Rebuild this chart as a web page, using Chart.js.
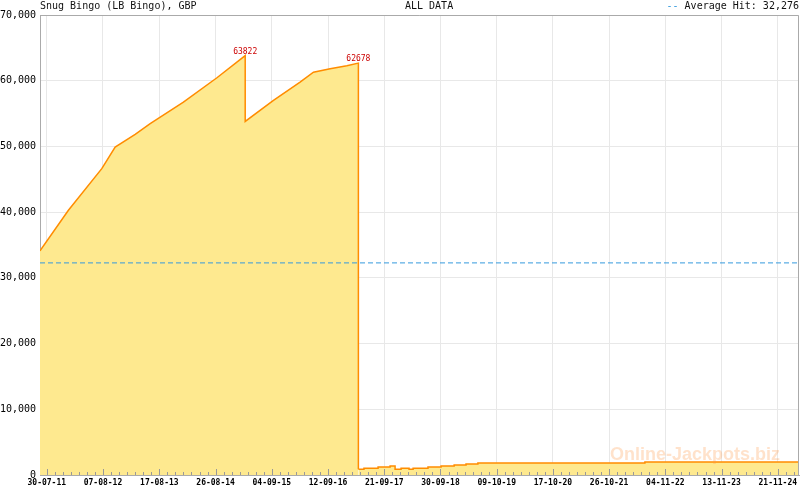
<!DOCTYPE html>
<html lang="en">
<head>
  <meta charset="UTF-8">
  <title>Snug Bingo (LB Bingo), GBP</title>
  <script src="https://cdn.jsdelivr.net/npm/chart.js"></script>
  <style>
    body {
      margin: 0;
      background: #fff;
    }

    .wrap {
      position: relative;
      width: 800px;
      height: 490px;
    }

    .head {
      position: absolute;
      top: 0;
      font: 10px 'DejaVu Sans Mono', monospace;
      line-height: 12px;
      color: #111;
      white-space: pre;
    }

    .dash {
      color: #3399dd;
    }

    .mark {
      position: absolute;
      left: 610px;
      top: 444px;
      font: bold 18px 'Liberation Sans', Arial, sans-serif;
      color: rgba(255, 150, 70, 0.28);
      white-space: pre;
    }
  </style>
</head>
<body>
<div class="wrap">
  <canvas id="chart"></canvas>
  <div class="head" style="left:40px">Snug Bingo (LB Bingo), GBP</div>
  <div class="head" style="left:405px">ALL DATA</div>
  <div class="head" style="right:1px"><span class="dash">--</span> Average Hit: 32,276</div>
  <div class="mark">Online-Jackpots.biz</div>
</div>

<script>
  // jackpot before each drop (line segment)
  const dates = ['2011-06-15', '2011-12-21', '2012-07-30', '2012-10-27', '2013-03-09', '2013-06-17',
    '2014-01-24', '2014-09-04', '2015-03-11', '2015-03-11', '2015-09-15', '2016-03-10',
    '2016-06-07', '2016-09-26', '2017-01-15', '2017-04-02', '2017-04-02'];
  const values = [34100, 40280, 46620, 49900, 51830, 53460,
    56740, 60450, 63822, 53810, 57010, 59790,
    61300, 61820, 62280, 62678, 870];

  // low level after the last hit (stepped)
  const lowDates = ['2017-04-02', '2017-05-09', '2017-08-11', '2017-10-30', '2017-12-02', '2018-01-11',
    '2018-03-05', '2018-04-01', '2018-07-09', '2018-10-04', '2018-12-30', '2019-03-19',
    '2019-06-06', '2022-06-21', '2025-04-11'];
  const lowValues = [870, 1020, 1220, 1370, 870, 1020,
    870, 1020, 1220, 1370, 1520, 1670,
    1820, 1980, 1980];

  const peakDates = ['2015-03-11', '2017-04-02'];
  const peakValues = [63822, 62678];

  const averageHit = 32276;

  const tickLabels = ['30-07-11', '07-08-12', '17-08-13', '26-08-14', '04-09-15', '12-09-16', '21-09-17',
    '30-09-18', '09-10-19', '17-10-20', '26-10-21', '04-11-22', '13-11-23', '21-11-24'];

  const yTicks = [0, 10000, 20000, 30000, 40000, 50000, 60000, 70000];

  function toDay(s) {
    const p = s.split('-').map(Number);
    return Date.UTC(p[0], p[1] - 1, p[2]) / 86400000;
  }

  function labelDay(s) {
    const p = s.split('-').map(Number);
    return Date.UTC(2000 + p[2], p[1] - 1, p[0]) / 86400000;
  }

  const xMin = toDay(dates[0]);
  const xMax = toDay(lowDates[lowDates.length - 1]);

  const majorDays = tickLabels.map(labelDay);
  const labelByDay = {};
  majorDays.forEach((d, i) => labelByDay[d] = tickLabels[i]);

  // 7 small ticks between labels
  const step = (majorDays[majorDays.length - 1] - majorDays[0]) / ((majorDays.length - 1) * 7);
  const xTicks = [];
  for (let v = majorDays[0]; v > xMin; v -= step) xTicks.unshift({ value: v, major: false });
  xTicks.shift();
  majorDays.forEach((d, i) => {
    xTicks.push({ value: d, major: true });
    if (i < majorDays.length - 1) {
      for (let k = 1; k < 7; k++) xTicks.push({ value: d + (majorDays[i + 1] - d) * k / 7, major: false });
    }
  });
  for (let v = majorDays[majorDays.length - 1] + step; v < xMax; v += step) xTicks.push({ value: v, major: false });

  const frame = {
    id: 'frame',
    afterDraw(chart) {
      const { ctx, chartArea: a, scales } = chart;
      ctx.save();
      ctx.strokeStyle = '#aaaaaa';
      ctx.lineWidth = 1;
      ctx.beginPath();
      ctx.moveTo(a.left, a.top + 0.5);
      ctx.lineTo(a.right - 0.5, a.top + 0.5);
      ctx.lineTo(a.right - 0.5, a.bottom);
      ctx.stroke();

      // tick marks pointing into the plot
      ctx.strokeStyle = '#999999';
      ctx.beginPath();
      xTicks.forEach(t => {
        const x = Math.round(scales.x.getPixelForValue(t.value)) + 0.5;
        ctx.moveTo(x, a.bottom);
        ctx.lineTo(x, a.bottom - (t.major ? 6 : 3));
      });
      ctx.stroke();

      // peak labels
      ctx.fillStyle = '#cc0000';
      ctx.font = '8px "DejaVu Sans Mono", monospace';
      ctx.textAlign = 'center';
      ctx.textBaseline = 'alphabetic';
      peakDates.forEach((d, i) => {
        const x = scales.x.getPixelForValue(toDay(d));
        const y = scales.y.getPixelForValue(peakValues[i]);
        ctx.fillText(peakValues[i], x, y - 2);
      });
      ctx.restore();
    }
  };

  const ctx = document.getElementById('chart').getContext('2d');
  new Chart(ctx, {
    type: 'line',
    data: {
      datasets: [
        {
          data: dates.map((d, i) => ({ x: toDay(d), y: values[i] })),
          borderColor: '#ff8c00',
          backgroundColor: '#fee98f',
          borderWidth: 1.5,
          fill: 'origin',
          pointRadius: 0,
          tension: 0,
          order: 2
        },
        {
          data: lowDates.map((d, i) => ({ x: toDay(d), y: lowValues[i] })),
          borderColor: '#ff8c00',
          backgroundColor: '#fee98f',
          borderWidth: 1.5,
          fill: 'origin',
          stepped: true,
          pointRadius: 0,
          order: 1
        },
        {
          data: [{ x: xMin, y: averageHit }, { x: xMax, y: averageHit }],
          borderColor: '#3399dd',
          borderWidth: 1,
          borderDash: [5, 3],
          fill: false,
          pointRadius: 0,
          order: 0
        }
      ]
    },
    options: {
      responsive: true,
      maintainAspectRatio: false,
      animation: false,
      layout: { padding: { top: 15, right: 1, left: 0, bottom: 0 } },
      plugins: {
        legend: { display: false },
        tooltip: { enabled: false }
      },
      scales: {
        x: {
          type: 'linear',
          min: xMin,
          max: xMax,
          afterBuildTicks: s => { s.ticks = xTicks.map(t => ({ value: t.value, major: t.major })); },
          afterFit: s => { s.height = 15; },
          grid: {
            color: c => (c.tick && c.tick.major) ? '#e8e8e8' : 'rgba(0,0,0,0)',
            drawTicks: false
          },
          border: { color: '#aaaaaa' },
          ticks: {
            autoSkip: false,
            maxRotation: 0,
            padding: 3,
            color: '#000',
            font: { family: 'DejaVu Sans Mono', size: 8, weight: 'bold' },
            callback: v => labelByDay[v] || ''
          }
        },
        y: {
          min: 0,
          max: 70000,
          afterBuildTicks: s => { s.ticks = yTicks.map(v => ({ value: v })); },
          afterFit: s => { s.width = 40; },
          grid: { color: '#e8e8e8', drawTicks: false },
          border: { color: '#aaaaaa' },
          ticks: {
            padding: 4,
            color: '#000',
            font: { family: 'DejaVu Sans Mono', size: 10 },
            callback: v => v.toLocaleString('en-US')
          }
        }
      }
    },
    plugins: [frame]
  });
</script>
</body>
</html>
